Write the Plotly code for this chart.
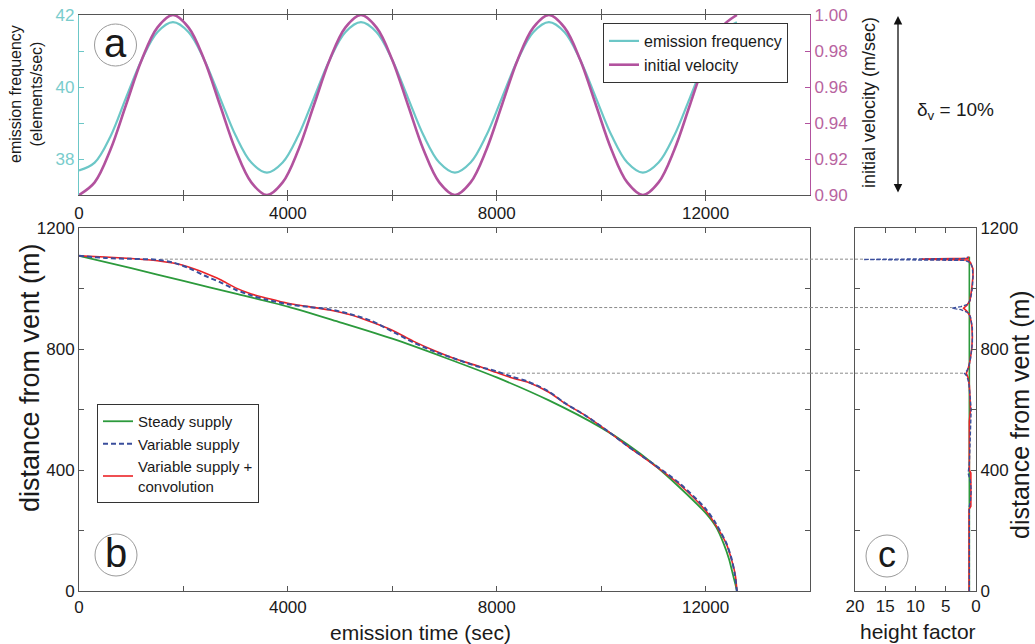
import plotly.graph_objects as go

W, H = 1035, 644
FONT = "Liberation Sans, Arial, sans-serif"

# ---------------- panel a data ----------------
time_a = [0, 300, 600, 900, 1200, 1500, 1800, 2100, 2400, 2700, 3000, 3300,
          3600, 3900, 4200, 4500, 4800, 5100, 5400, 5700, 6000, 6300, 6600, 6900,
          7200, 7500, 7800, 8100, 8400, 8700, 9000, 9300, 9600, 9900, 10200, 10500,
          10800, 11100, 11400, 11700, 12000, 12300, 12600]
freq_a = [37.68, 37.90, 38.62, 39.70, 40.75, 41.52, 41.80, 41.52, 40.75, 39.70, 38.65, 37.90,
          37.62, 37.90, 38.65, 39.70, 40.75, 41.52, 41.80, 41.52, 40.75, 39.70, 38.65, 37.90,
          37.62, 37.90, 38.65, 39.70, 40.75, 41.52, 41.80, 41.52, 40.75, 39.70, 38.65, 37.90,
          37.62, 37.90, 38.65, 39.70, 40.75, 41.52, 41.80]
vel_a = [0.900, 0.907, 0.925, 0.950, 0.975, 0.993, 1.000, 0.993, 0.975, 0.950, 0.925, 0.907,
         0.900, 0.907, 0.925, 0.950, 0.975, 0.993, 1.000, 0.993, 0.975, 0.950, 0.925, 0.907,
         0.900, 0.907, 0.925, 0.950, 0.975, 0.993, 1.000, 0.993, 0.975, 0.950, 0.925, 0.907,
         0.900, 0.907, 0.925, 0.950, 0.975, 0.993, 1.000]

# ---------------- panel b data ----------------
steady_t = [0, 1000, 2000, 3000, 4000, 5000, 6000, 7000, 8000, 9000, 10000, 10500,
            11000, 11500, 12000, 12200, 12350, 12450, 12530, 12575, 12600]
steady_d = [1108, 1067, 1025, 983, 940, 888, 834, 772, 706, 630, 540, 485,
            420, 343, 258, 212, 155, 105, 50, 20, 0]

var_t = [0, 500, 1000, 1500, 1800, 2100, 2400, 2700, 3000, 3300, 3600, 4000, 4400,
         4800, 5200, 5600, 6000, 6400, 6800, 7200, 7600, 8000, 8300, 8600, 9000, 9300,
         9700, 10100, 10500, 11000, 11500, 12000, 12200, 12400, 12500, 12560, 12600]
var_d = [1108, 1101, 1098, 1095, 1086, 1068, 1043, 1021, 996, 977, 963, 948, 939,
         931, 915, 893, 858, 822, 792, 768, 744, 726, 708, 692, 659, 622,
         580, 532, 480, 420, 356, 272, 222, 157, 105, 55, 0]

conv_t = [0, 500, 1000, 1500, 1800, 2100, 2400, 2700, 3000, 3300, 3600, 4000, 4400,
          4800, 5200, 5600, 6000, 6400, 6800, 7200, 7600, 8000, 8300, 8600, 9000, 9300,
          9700, 10100, 10500, 11000, 11500, 12000, 12200, 12400, 12500, 12570, 12600]
conv_d = [1108, 1104, 1099, 1092, 1084, 1071, 1052, 1030, 1002, 982, 968, 951, 940,
          929, 913, 889, 862, 826, 795, 768, 746, 722, 704, 690, 657, 621,
          580, 532, 480, 418, 352, 266, 217, 155, 102, 52, 0]

# ---------------- panel c data ----------------
steady_c_d = [0, 400, 800, 1105]
steady_c_f = [1.1, 1.1, 1.1, 1.1]

var_c_d = [0, 280, 300, 330, 360, 390, 420, 500, 560, 600, 650, 690, 710, 720, 728, 740,
           770, 820, 870, 905, 920, 930, 935, 940, 948, 965, 1000, 1040, 1070, 1085,
           1093, 1096, 1099, 1104]
var_c_f = [1.1, 1.1, 0.9, 0.8, 0.9, 1.3, 1.1, 1.0, 0.9, 0.8, 1.0, 1.2, 1.5, 1.9, 1.5, 1.2,
           0.9, 0.6, 0.6, 0.9, 1.3, 2.5, 4.0, 2.5, 1.3, 0.9, 0.6, 0.5, 0.6, 0.9,
           1.8, 18.6, 2.0, 1.3]

conv_c_d = [0, 270, 280, 390, 400, 560, 600, 640, 680, 705, 720, 735, 760, 800, 840, 880,
            910, 925, 935, 945, 960, 1000, 1040, 1065, 1085, 1094, 1097, 1100, 1106]
conv_c_f = [1.15, 1.15, 0.85, 0.85, 1.1, 1.1, 0.9, 1.0, 1.1, 1.3, 1.6, 1.3, 1.0, 0.7, 0.6, 0.7,
            1.0, 1.5, 2.05, 1.5, 1.0, 0.7, 0.5, 0.5, 0.9, 1.3, 9.0, 1.3, 1.2]

# dotted reference levels
ridge_d = [1097, 937, 720]
ridge_start = [1550, 4600, 8100]
ridge_factor = [18.6, 4.0, 1.9]

# ticks
time_ticks = [0, 2000, 4000, 6000, 8000, 10000, 12000, 14000]
time_labels = ["0", "", "4000", "", "8000", "", "12000", ""]
dist_ticks = [0, 200, 400, 600, 800, 1000, 1200]
dist_labels = ["0", "", "400", "", "800", "", "1200"]
freq_ticks = [37, 38, 39, 40, 41, 42]
freq_labels = ["", "38", "", "40", "", "42"]
vel_ticks = [0.90, 0.92, 0.94, 0.96, 0.98, 1.00]
vel_labels = ["0.90", "0.92", "0.94", "0.96", "0.98", "1.00"]
hf_ticks = [0, 5, 10, 15, 20]
hf_labels = ["0", "5", "10", "15", "20"]

CYAN = "#6cc7c7"
CYAN_TXT = "#79cccc"
MAG = "#b2529e"
MAG_TXT = "#b8639f"
GREEN = "#2c9a3c"
BLUE = "#3a4e9c"
RED = "#ec2327"
GRAY = "#8a8a8a"
AX = "#555555"

# domains (paper)
xa = [79 / W, 810 / W]
ya = [1 - 195 / H, 1 - 15 / H]
yb = [1 - 591 / H, 1 - 228 / H]
xc = [855 / W, 976 / W]

fig = go.Figure()

# panel a
fig.add_trace(go.Scatter(x=time_a, y=vel_a, name="initial velocity", mode="lines",
                         line=dict(color=MAG, width=2.6, shape="spline"),
                         xaxis="x", yaxis="y2", legend="legend", legendrank=2))
fig.add_trace(go.Scatter(x=time_a, y=freq_a, name="emission frequency", mode="lines",
                         line=dict(color=CYAN, width=2.2, shape="spline"),
                         xaxis="x", yaxis="y", legend="legend", legendrank=1))

# dotted lines panel b / c
for d, s, f in zip(ridge_d, ridge_start, ridge_factor):
    fig.add_trace(go.Scatter(x=[s, 14000], y=[d, d], mode="lines", showlegend=False,
                             line=dict(color=GRAY, width=1, dash="3px,2px"),
                             xaxis="x2", yaxis="y3", hoverinfo="skip"))
    fig.add_trace(go.Scatter(x=[20, f], y=[d, d], mode="lines", showlegend=False,
                             line=dict(color=GRAY, width=1, dash="3px,2px"),
                             xaxis="x3", yaxis="y4", hoverinfo="skip"))

# panel b
fig.add_trace(go.Scatter(x=steady_t, y=steady_d, name="Steady supply", mode="lines",
                         line=dict(color=GREEN, width=1.8, shape="spline", smoothing=0.8),
                         xaxis="x2", yaxis="y3", legend="legend2", legendrank=1))
fig.add_trace(go.Scatter(x=conv_t, y=conv_d, name="Variable supply +<br>convolution", mode="lines",
                         line=dict(color=RED, width=1.6, shape="spline", smoothing=0.8),
                         xaxis="x2", yaxis="y3", legend="legend2", legendrank=3))
fig.add_trace(go.Scatter(x=var_t, y=var_d, name="Variable supply", mode="lines",
                         line=dict(color=BLUE, width=2, dash="5px,3px", shape="spline", smoothing=0.8),
                         xaxis="x2", yaxis="y3", legend="legend2", legendrank=2))

# panel c
fig.add_trace(go.Scatter(x=steady_c_f, y=steady_c_d, mode="lines", showlegend=False,
                         line=dict(color=GREEN, width=1.6), xaxis="x3", yaxis="y4"))
fig.add_trace(go.Scatter(x=conv_c_f, y=conv_c_d, mode="lines", showlegend=False,
                         line=dict(color=RED, width=1.6), xaxis="x3", yaxis="y4"))
fig.add_trace(go.Scatter(x=var_c_f, y=var_c_d, mode="lines", showlegend=False,
                         line=dict(color=BLUE, width=1.4, dash="4px,2px"), xaxis="x3", yaxis="y4"))

tickfont = dict(family=FONT, size=17, color="#1a1a1a")
common = dict(showgrid=False, zeroline=False, showline=True, linecolor=AX, linewidth=1,
              ticks="inside", ticklen=5, tickcolor=AX, tickfont=tickfont, tickmode="array",
              automargin=False)

fig.update_layout(
    template="none",
    width=W, height=H, margin=dict(l=0, r=0, t=0, b=0, autoexpand=False),
    paper_bgcolor="white", plot_bgcolor="white",
    font=dict(family=FONT, color="#1a1a1a"),
    xaxis=dict(domain=xa, anchor="y", range=[0, 14000], tickvals=time_ticks,
               ticktext=time_labels, mirror="allticks", ticklabelstandoff=3, **common),
    yaxis=dict(domain=ya, anchor="x", range=[37, 42], tickvals=freq_ticks, ticktext=freq_labels,
               showgrid=False, zeroline=False, showline=True, linecolor=CYAN, linewidth=1.2,
               ticks="inside", ticklen=5, tickcolor=CYAN, tickmode="array", automargin=False,
               tickfont=dict(family=FONT, size=17, color=CYAN_TXT)),
    yaxis2=dict(overlaying="y", side="right", anchor="x", range=[0.9, 1.0], tickvals=vel_ticks,
                ticktext=vel_labels, showgrid=False, zeroline=False, showline=True,
                linecolor=MAG, linewidth=1.2, ticks="inside", ticklen=5, tickcolor=MAG,
                tickmode="array", automargin=False,
                tickfont=dict(family=FONT, size=17, color=MAG_TXT)),
    xaxis2=dict(domain=xa, anchor="y3", range=[0, 14000], tickvals=time_ticks,
                ticktext=time_labels, mirror="allticks", ticklabelstandoff=1, **common),
    yaxis3=dict(domain=yb, anchor="x2", range=[0, 1200], tickvals=dist_ticks,
                ticktext=dist_labels, mirror="allticks", **common),
    xaxis3=dict(domain=xc, anchor="y4", range=[20, 0], tickvals=hf_ticks,
                ticktext=hf_labels, mirror="allticks", ticklabelstandoff=0, **common),
    yaxis4=dict(domain=yb, anchor="x3", side="right", range=[0, 1200], tickvals=dist_ticks,
                ticktext=dist_labels, mirror="allticks", **common),
    legend=dict(x=603 / W, y=1 - 23 / H, xanchor="left", yanchor="top",
                bgcolor="white", bordercolor="#333", borderwidth=1,
                font=dict(family=FONT, size=16, color="#1a1a1a"), tracegroupgap=0),
    legend2=dict(x=97 / W, y=1 - 404 / H, xanchor="left", yanchor="top",
                 bgcolor="white", bordercolor="#333", borderwidth=1,
                 font=dict(family=FONT, size=15, color="#1a1a1a"), tracegroupgap=0),
    showlegend=True,
)

shapes = []
for d in ridge_d:
    shapes.append(dict(type="line", xref="paper", yref="y3", x0=xa[1], x1=xc[0], y0=d, y1=d,
                       line=dict(color=GRAY, width=1, dash="3px,2px")))
for cx, cy in [(115.5, 45), (116, 555), (887, 556)]:
    shapes.append(dict(type="circle", xref="paper", yref="paper", xsizemode="pixel",
                       ysizemode="pixel", xanchor=cx / W, yanchor=1 - cy / H,
                       x0=-21, x1=21, y0=-21, y1=21, line=dict(color="#9a9a9a", width=1),
                       fillcolor="white", layer="above"))
fig.update_layout(shapes=shapes)

ann = []
def txt(x, y, s, size, angle=0, xanchor="center", color="#1a1a1a"):
    ann.append(dict(x=x / W, y=1 - y / H, xref="paper", yref="paper", text=s,
                    showarrow=False, textangle=angle, xanchor=xanchor, yanchor="middle",
                    font=dict(family=FONT, size=size, color=color)))

txt(26, 94, "emission frequency<br>(elements/sec)", 16, -90)
txt(869, 103, "initial velocity (m/sec)", 18, -90)
txt(30, 378, "distance from vent (m)", 27, -90)
txt(1020, 415, "distance from vent (m)", 25, -90)
txt(420, 632, "emission time (sec)", 21)
txt(918, 631, "height factor", 21)
txt(915, 111, "δ<sub>v</sub> = 10%", 19, xanchor="left")
txt(115.5, 43, "a", 40)
txt(116, 553, "b", 40)
txt(887, 554, "c", 36)

ann.append(dict(x=898 / W, y=1 - 16 / H, xref="paper", yref="paper", text="",
                showarrow=True, ax=0, ay=178, axref="pixel", ayref="pixel",
                arrowhead=2, arrowside="end+start", arrowsize=1.3, arrowwidth=1.3,
                arrowcolor="#111"))
fig.update_layout(annotations=ann)

fig.write_html("out.html")
